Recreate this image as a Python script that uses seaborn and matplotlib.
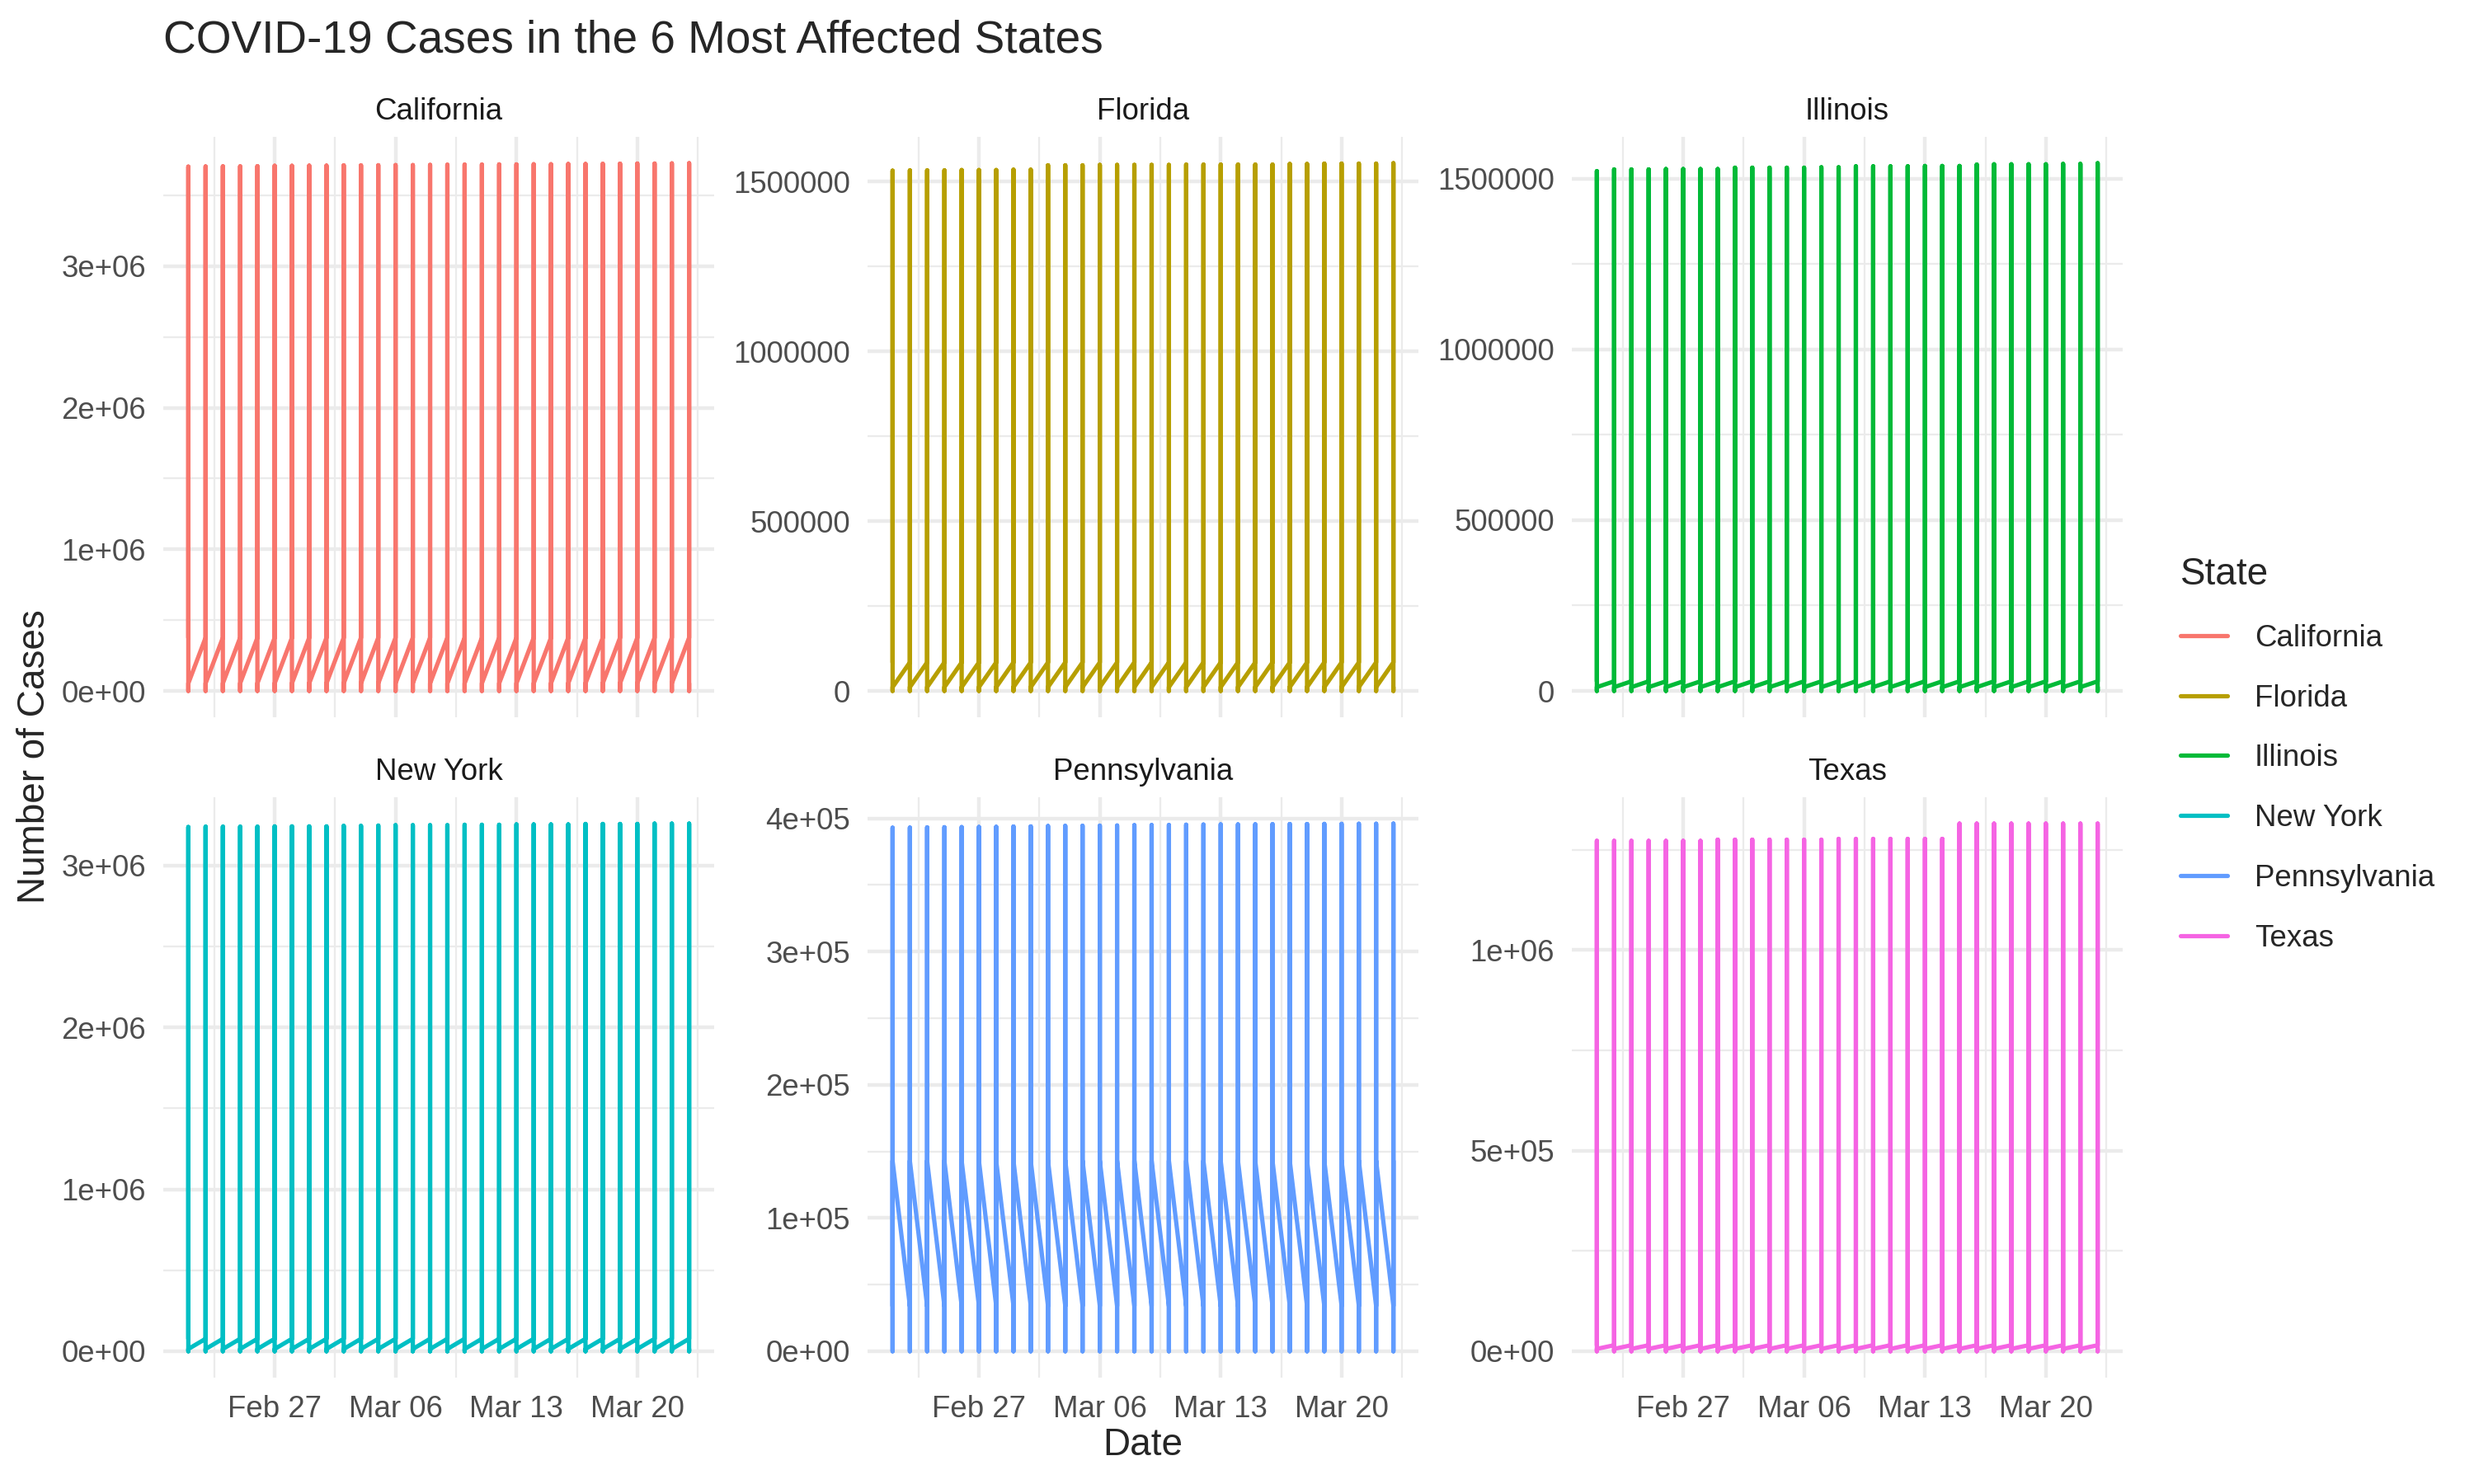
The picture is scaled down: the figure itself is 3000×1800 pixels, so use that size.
import pandas as pd
import matplotlib
matplotlib.use('Agg')
import matplotlib.pyplot as plt
import matplotlib.dates as mdates
import matplotlib.ticker as mticker
from matplotlib.lines import Line2D
import seaborn as sns

# --- Data ---
states = ['California', 'Florida', 'Illinois', 'New York', 'Pennsylvania', 'Texas']
state_colors = ['#F8766D', '#B79F00', '#00BA38', '#00BFC4', '#619CFF', '#F564E3']
dates = pd.date_range('2021-02-22', '2021-03-23', freq='D')

# daily peak (largest row per date)
ca_peak = [3703000, 3704000, 3705000, 3705000, 3706000, 3709000, 3709000, 3710000, 3710000, 3712000,
           3712000, 3713000, 3714000, 3714000, 3715000, 3716000, 3718000, 3718000, 3719000, 3719000,
           3720000, 3720000, 3722000, 3722000, 3723000, 3724000, 3725000, 3725000, 3726000, 3727000]
fl_peak = [1532000, 1533000, 1533000, 1533000, 1534000, 1534000, 1534000, 1535000, 1535000, 1548000,
           1548000, 1548000, 1549000, 1549000, 1549000, 1549000, 1549000, 1550000, 1550000, 1550000,
           1550000, 1550000, 1550000, 1552000, 1552000, 1553000, 1553000, 1553000, 1553000, 1554000]
il_peak = [1522000, 1527000, 1527000, 1527000, 1528000, 1528000, 1528000, 1528000, 1532000, 1532000,
           1532000, 1532000, 1532000, 1533000, 1533000, 1536000, 1536000, 1536000, 1536000, 1537000,
           1537000, 1537000, 1541000, 1542000, 1542000, 1542000, 1542000, 1543000, 1543000, 1545000]
ny_peak = [3237000, 3239000, 3239000, 3239000, 3239000, 3241000, 3241000, 3241000, 3241000, 3244000,
           3244000, 3246000, 3248000, 3248000, 3248000, 3248000, 3251000, 3251000, 3251000, 3253000,
           3253000, 3253000, 3253000, 3256000, 3256000, 3256000, 3256000, 3258000, 3258000, 3258000]
pa_peak = [393000, 393100, 393300, 393400, 393500, 393600, 393700, 393900, 394000, 394300,
           394400, 394500, 394600, 394700, 394900, 395000, 395100, 395300, 395400, 395500,
           395500, 395600, 395700, 395800, 395800, 395900, 395900, 396000, 396000, 396100]
tx_peak = [1272000, 1272000, 1272000, 1272000, 1272000, 1272000, 1272000, 1275000, 1275000, 1275000,
           1275000, 1275000, 1275000, 1275000, 1277000, 1277000, 1277000, 1277000, 1277000, 1277000,
           1277000, 1315000, 1315000, 1315000, 1315000, 1315000, 1315000, 1315000, 1315000, 1315000]

# first row of each date and last row of each date
first_row = [376000, 84000, 28000, 77000, 34000, 15000]
last_row = [53000, 11000, 11000, 14000, 143000, 6000]

y_step = [1000000, 500000, 500000, 1000000, 100000, 500000]
y_sci = [True, False, False, True, True, True]
x_ticks = ['2021-02-27', '2021-03-06', '2021-03-13', '2021-03-20']

peaks = [ca_peak, fl_peak, il_peak, ny_peak, pa_peak, tx_peak]
rows = []
for s, pk, a, b in zip(states, peaks, first_row, last_row):
    for d, p in zip(dates, pk):
        for v in (a, p, 0, b):
            rows.append((s, d, v))
df = pd.DataFrame(rows, columns=['State', 'Date', 'Cases'])

# --- Plot ---
sns.set_style('white')
plt.rcParams['font.family'] = ['Liberation Sans', 'DejaVu Sans']

g = sns.relplot(data=df, x='Date', y='Cases', hue='State', col='State', col_wrap=3,
                kind='line', estimator=None, sort=False, palette=state_colors,
                hue_order=states, col_order=states, legend=False, linewidth=1.25,
                facet_kws={'sharey': False, 'sharex': True}, height=3, aspect=1.1)

fig = g.figure
fig.set_size_inches(10, 6)
fig.subplots_adjust(left=198 / 3000, right=2574 / 3000, bottom=1 - 1671 / 1800,
                    top=1 - 166 / 1800, wspace=186 / 668, hspace=97 / 704)

major_x = mdates.date2num(pd.to_datetime(x_ticks))
minor_x = [m - 3.5 for m in major_x] + [major_x[-1] + 3.5]

for i, s in enumerate(states):
    ax = g.axes_dict[s]
    for sp in ax.spines.values():
        sp.set_visible(False)
    ax.xaxis.set_major_locator(mticker.FixedLocator(major_x))
    ax.xaxis.set_minor_locator(mticker.FixedLocator(minor_x))
    ax.xaxis.set_major_formatter(mdates.DateFormatter('%b %d'))
    ax.yaxis.set_major_locator(mticker.MultipleLocator(y_step[i]))
    ax.yaxis.set_minor_locator(mticker.MultipleLocator(y_step[i] / 2))
    if y_sci[i]:
        ax.yaxis.set_major_formatter(mticker.FuncFormatter(lambda v, p: f'{v:.0e}'))
    else:
        ax.yaxis.set_major_formatter(mticker.FuncFormatter(lambda v, p: f'{v:.0f}'))
    ax.grid(which='major', color='#EBEBEB', linewidth=1.07)
    ax.grid(which='minor', color='#EBEBEB', linewidth=0.53)
    ax.set_axisbelow(True)
    ax.tick_params(which='both', length=0, pad=5, labelsize=8.8, labelcolor='#4D4D4D')
    ax.set_title(s, fontsize=8.8, color='#1A1A1A', pad=5)
    ax.set_xlabel('')
    ax.set_ylabel('')

fig.text(198 / 3000, 1 - 63 / 1800, 'COVID-19 Cases in the 6 Most Affected States',
         fontsize=13.2, ha='left', va='baseline')
fig.text(42 / 3000, 1 - 918 / 1800, 'Number of Cases', rotation=90, fontsize=11,
         ha='center', va='center')
fig.text(1386 / 3000, 1 - 1753 / 1800, 'Date', fontsize=11, ha='center', va='center')

handles = [Line2D([], [], color=g.axes_dict[s].lines[0].get_color(), linewidth=1.25) for s in states]
fig.legend(handles, states, title='State', loc='upper left',
           bbox_to_anchor=(2611 / 3000, 1 - 642 / 1800), frameon=False, fontsize=8.8,
           title_fontsize=11, handlelength=1.55, handletextpad=0.9, labelspacing=1.03,
           alignment='left')

fig.savefig('out.png', dpi=300)
